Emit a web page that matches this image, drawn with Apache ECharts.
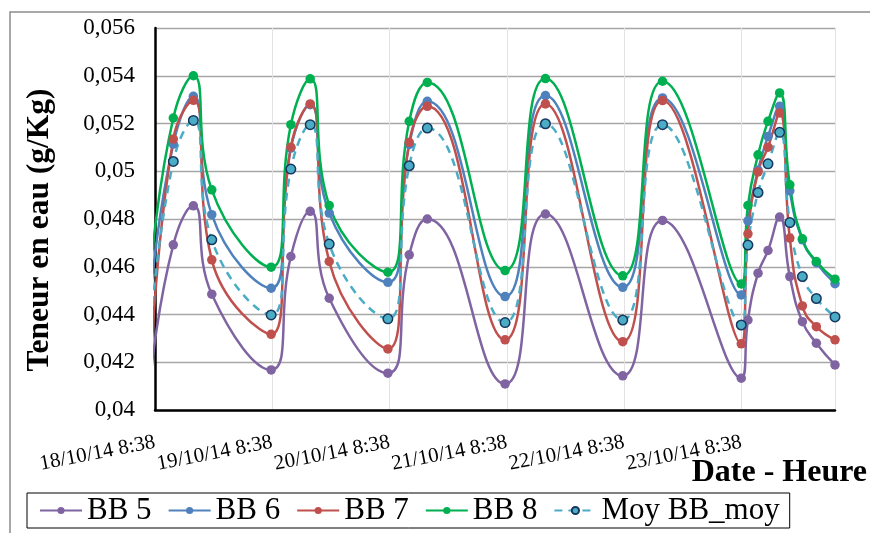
<!DOCTYPE html>
<html>
<head>
<meta charset="utf-8">
<script src="https://cdn.jsdelivr.net/npm/echarts@6/dist/echarts.min.js"></script>
<style>html,body{margin:0;padding:0;background:#fff;}#c{width:870px;height:533px;}</style>
</head>
<body>
<div id="c"></div>
<script>
// Time of each measurement, in days since 18/10/14 8:38
const dayOffsets = [-0.03, 0.156, 0.327, 0.484, 0.990, 1.158, 1.323, 1.485, 1.985, 2.167, 2.321, 2.984, 3.328, 3.987, 4.326, 4.997, 5.054, 5.140, 5.225, 5.324, 5.411, 5.518, 5.637, 5.796];
const bb5 = [0.0417, 0.04692, 0.04855, 0.04485, 0.04168, 0.04643, 0.04832, 0.04468, 0.04154, 0.0465, 0.0480, 0.04109, 0.04821, 0.04143, 0.04794, 0.04133, 0.04377, 0.04573, 0.04668, 0.04808, 0.04559, 0.0437, 0.0428, 0.04189];
const bb6 = [0.0452, 0.05114, 0.05314, 0.04818, 0.04510, 0.05097, 0.05279, 0.04825, 0.04535, 0.05112, 0.05293, 0.04475, 0.05317, 0.04514, 0.05307, 0.04482, 0.04792, 0.05005, 0.05146, 0.05272, 0.04918, 0.04713, 0.04617, 0.04529];
const bb7 = [0.0423, 0.05135, 0.05297, 0.04629, 0.04317, 0.05101, 0.05282, 0.04622, 0.04256, 0.05121, 0.05272, 0.04294, 0.05282, 0.04286, 0.05296, 0.04277, 0.04738, 0.04997, 0.05101, 0.05244, 0.0472, 0.04436, 0.04349, 0.04294];
const bb8 = [0.0462, 0.05223, 0.05400, 0.04922, 0.04598, 0.05195, 0.05387, 0.04857, 0.04577, 0.05209, 0.05372, 0.04584, 0.05388, 0.04562, 0.05377, 0.04528, 0.04857, 0.05069, 0.05209, 0.05328, 0.04943, 0.04717, 0.04622, 0.04548];
const moy = [0.04385, 0.05041, 0.05213, 0.04713, 0.04398, 0.05009, 0.05195, 0.04695, 0.04382, 0.05023, 0.05181, 0.04366, 0.05199, 0.04377, 0.05195, 0.04356, 0.04691, 0.04911, 0.05031, 0.05163, 0.04785, 0.04559, 0.04467, 0.0439];
const seriesNames = ['BB 5', 'BB 6', 'BB 7', 'BB 8', 'Moy BB_moy'];
const yTicks = [0.04, 0.042, 0.044, 0.046, 0.048, 0.05, 0.052, 0.054, 0.056];
const startTime = new Date(2014, 9, 18, 8, 38);
const axisMaxDays = 5.796;

const FONT = '"Liberation Serif", "Times New Roman", serif';
const pairs = arr => dayOffsets.map((d, i) => [d, arr[i]]);

function mkSeries(name, data, color, opts) {
  return Object.assign({
    name: name, type: 'line', data: pairs(data), smooth: 0.5,
    symbol: 'circle', symbolSize: 9.5, clip: true,
    lineStyle: { color: color, width: 2.5 },
    itemStyle: { color: color, borderWidth: 0 },
    emphasis: { disabled: true }, animation: false
  }, opts || {});
}

const chart = echarts.init(document.getElementById('c'), null, { renderer: 'canvas' });
chart.setOption({
  backgroundColor: '#fff',
  animation: false,
  grid: { left: 155, top: 28, width: 680, height: 382, containLabel: false },
  xAxis: {
    type: 'value', min: 0, max: axisMaxDays, interval: 1,
    axisLine: { show: true, onZero: false, lineStyle: { color: '#000', width: 2.5 } },
    axisTick: { show: false },
    splitLine: { show: true, lineStyle: { color: '#E3E3E3', width: 1 } },
    axisLabel: {
      rotate: 11, margin: 32, fontSize: 21, color: '#000', fontFamily: FONT,
      showMaxLabel: false,
      formatter: v => {
        if (Math.abs(v - Math.round(v)) > 1e-6) return '';
        const d = new Date(startTime.getTime() + Math.round(v) * 86400000);
        return d.getDate() + '/' + (d.getMonth() + 1) + '/' + String(d.getFullYear()).slice(2) + ' ' + d.getHours() + ':' + String(d.getMinutes()).padStart(2, '0');
      }
    }
  },
  yAxis: {
    type: 'value', min: yTicks[0], max: yTicks[yTicks.length - 1], interval: 0.002,
    axisLine: { show: true, lineStyle: { color: '#000', width: 2.5 } },
    axisTick: { show: false },
    splitLine: { show: true, lineStyle: { color: '#A6A6A6', width: 1.3 } },
    axisLabel: {
      margin: 20, fontSize: 23, color: '#000', fontFamily: FONT,
      formatter: v => String(parseFloat(v.toFixed(4))).replace('.', ',')
    }
  },
  legend: {
    left: 27, top: 493, orient: 'horizontal',
    borderColor: '#000', borderWidth: 1, padding: [1, 10, 1, 12],
    itemWidth: 42, itemHeight: 9, itemGap: 16,
    textStyle: { fontSize: 31, color: '#000', fontFamily: FONT, lineHeight: 33 },
    data: seriesNames
  },
  graphic: [
    { type: 'rect', silent: true, shape: { x: 10, y: 12, width: 900, height: 600 }, style: { fill: 'none', stroke: '#8C8C8C', lineWidth: 1.5 }, z: -10 },
    { type: 'text', x: 40, y: 230, rotation: Math.PI / 2, style: { text: 'Teneur en eau (g/Kg)', font: 'bold 31.5px ' + FONT, fill: '#000', align: 'center', verticalAlign: 'middle' } },
    { type: 'text', x: 867, y: 473, style: { text: 'Date - Heure', font: 'bold 32px ' + FONT, fill: '#000', align: 'right', verticalAlign: 'middle' } }
  ],
  series: [
    mkSeries(seriesNames[0], bb5, '#8064A2'),
    mkSeries(seriesNames[1], bb6, '#4F81BD'),
    mkSeries(seriesNames[2], bb7, '#C0504D'),
    mkSeries(seriesNames[3], bb8, '#00B050'),
    mkSeries(seriesNames[4], moy, '#4BACC6', {
      lineStyle: { color: '#4BACC6', width: 2.5, type: [8, 6] },
      itemStyle: { color: '#4BACC6', borderColor: '#17375E', borderWidth: 1.5 }
    })
  ]
});
</script>
</body>
</html>
